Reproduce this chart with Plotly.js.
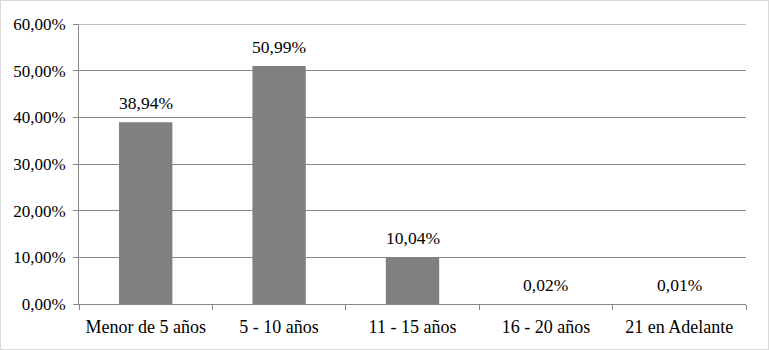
<!DOCTYPE html>
<html>
<head>
<meta charset="utf-8">
<script src="https://cdn.plot.ly/plotly-3.0.1.min.js"></script>
<style>
html,body{margin:0;padding:0;background:#fff;}
#chart{width:767px;height:348px;border:1px solid #d9d9d9;}
</style>
</head>
<body>
<div id="chart"></div>
<script>
var categories = ["Menor de 5 años", "5 - 10 años", "11 - 15 años", "16 - 20 años", "21 en Adelante"];
var values = [0.3894, 0.5099, 0.1004, 0.0002, 0.0001];
var labels = ["38,94%", "50,99%", "10,04%", "0,02%", "0,01%"];
var yTickVals = [0, 0.1, 0.2, 0.3, 0.4, 0.5, 0.6];

var fam = "'Liberation Serif', 'Times New Roman', serif";
var yFont = {family: fam, size: 17, color: "#000"};
var xFont = {family: fam, size: 18, color: "#000"};
var labelFont = {family: fam, size: 17.5, color: "#000"};

var trace = {
  type: "bar",
  x: categories,
  y: values,
  width: 0.4,
  marker: {color: "#808080", line: {width: 0}},
  hoverinfo: "none"
};

var annotations = categories.map(function(c, i){
  return {x: c, y: values[i], xref: "x", yref: "y", text: labels[i],
    showarrow: false, yanchor: "bottom", yshift: 7, font: labelFont};
});

var layout = {
  width: 767, height: 348,
  margin: {l: 78, r: 22, t: 23, b: 45},
  paper_bgcolor: "#fff", plot_bgcolor: "#fff",
  separators: ",.",
  showlegend: false,
  font: yFont,
  bargap: 0.6,
  xaxis: {
    type: "category",
    showline: true, linecolor: "#868686", linewidth: 1,
    ticks: "outside", tickson: "boundaries", ticklen: 5, tickcolor: "#868686",
    ticklabelstandoff: 6,
    showgrid: false, tickfont: xFont, fixedrange: true
  },
  yaxis: {
    range: [0, 0.6],
    tickvals: yTickVals, tickformat: ".2%",
    showline: true, linecolor: "#868686", linewidth: 1,
    ticks: "outside", ticklen: 5, tickcolor: "#868686",
    ticklabelstandoff: 4,
    showgrid: true, gridcolor: "#868686", gridwidth: 1,
    zeroline: false, tickfont: yFont, fixedrange: true
  },
  shapes: [{type: "line", xref: "paper", yref: "y", x0: 0, x1: 1, y0: 0.6, y1: 0.6,
    line: {color: "#868686", width: 1}}],
  annotations: annotations
};

Plotly.newPlot("chart", [trace], layout, {displayModeBar: false, staticPlot: true});
</script>
</body>
</html>
